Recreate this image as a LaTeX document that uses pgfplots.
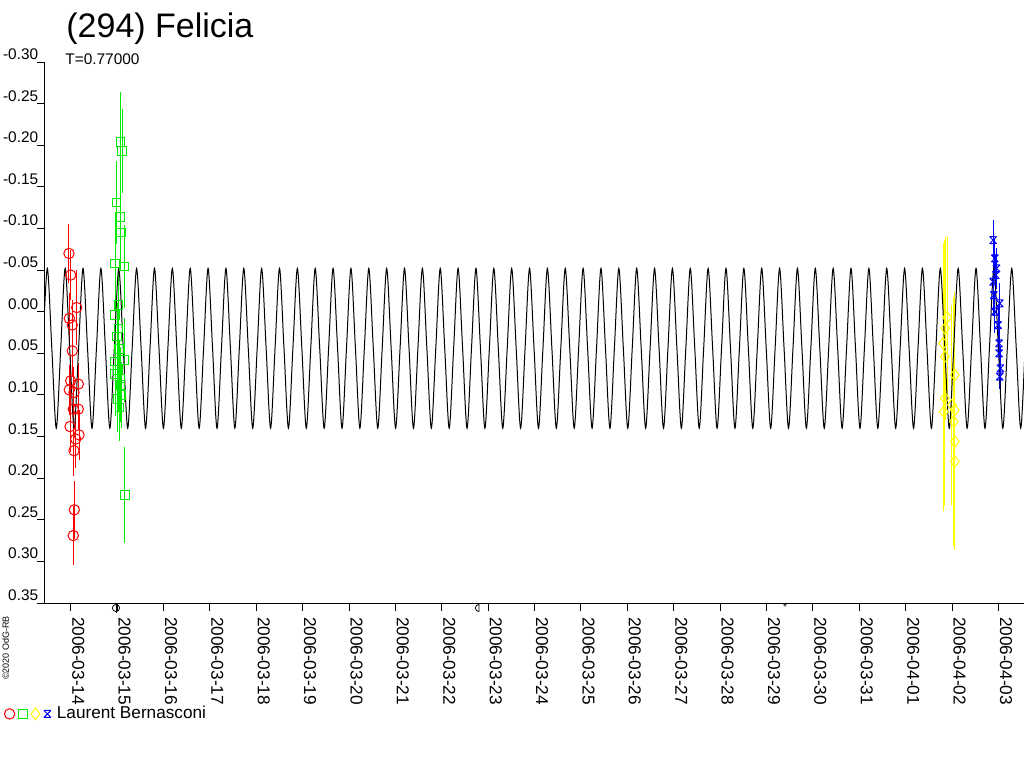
\documentclass[border=0pt]{standalone}
\usepackage{fontspec}
\setmainfont{Liberation Sans}
\usepackage{pgfplots}
\usepackage{pgfplotstable}
\pgfplotsset{compat=1.18}
\usetikzlibrary{plotmarks}
\definecolor{cred}{RGB}{255,0,0}
\definecolor{cgreen}{RGB}{0,235,0}
\definecolor{cyellow}{RGB}{255,255,0}
\definecolor{cblue}{RGB}{0,0,255}
\newcommand\tk{\fontsize{7.7}{9}\selectfont}
\newcommand\tx{\fontsize{8.6}{10}\selectfont}
\pgfdeclareplotmark{hx}{%
  \pgfpathmoveto{\pgfqpoint{-\pgfplotmarksize}{\pgfplotmarksize}}%
  \pgfpathlineto{\pgfqpoint{\pgfplotmarksize}{-\pgfplotmarksize}}%
  \pgfpathmoveto{\pgfqpoint{-\pgfplotmarksize}{-\pgfplotmarksize}}%
  \pgfpathlineto{\pgfqpoint{\pgfplotmarksize}{\pgfplotmarksize}}%
  \pgfpathmoveto{\pgfqpoint{-\pgfplotmarksize}{\pgfplotmarksize}}%
  \pgfpathlineto{\pgfqpoint{\pgfplotmarksize}{\pgfplotmarksize}}%
  \pgfpathmoveto{\pgfqpoint{-\pgfplotmarksize}{-\pgfplotmarksize}}%
  \pgfpathlineto{\pgfqpoint{\pgfplotmarksize}{-\pgfplotmarksize}}%
  \pgfusepathqstroke}

\pgfplotstableread{
t v e
-0.037 -0.070 0.035
0.000 -0.044 0.030
0.129 -0.005 0.045
-0.030 0.008 0.030
0.034 0.016 0.030
0.034 0.047 0.030
0.000 0.083 0.030
0.164 0.087 0.025
-0.030 0.094 0.030
0.071 0.097 0.030
0.056 0.117 0.030
0.164 0.117 0.025
-0.015 0.138 0.030
0.179 0.148 0.030
0.108 0.153 0.035
0.071 0.167 0.030
0.078 0.238 0.035
0.056 0.269 0.035
}\redtab

\pgfplotstableread{
t v e
1.078 -0.204 0.060
1.106 -0.193 0.050
0.991 -0.131 0.050
1.063 -0.114 0.045
1.084 -0.095 0.045
0.955 -0.058 0.060
1.149 -0.054 0.050
1.026 -0.008 0.045
0.955 0.004 0.045
1.030 0.020 0.045
1.000 0.030 0.040
1.040 0.045 0.045
1.155 0.058 0.050
0.955 0.060 0.045
1.020 0.070 0.050
0.955 0.075 0.050
1.060 0.080 0.045
1.078 0.088 0.045
1.099 0.100 0.040
1.010 0.105 0.040
1.050 0.115 0.040
1.170 0.220 0.058
}\greentab

\pgfplotstableread{
t v e
18.892 0.007 0.098
18.850 0.020 0.110
18.806 0.038 0.120
18.843 0.054 0.140
19.058 0.076 0.100
18.843 0.104 0.130
18.995 0.112 0.120
18.821 0.120 0.120
19.058 0.118 0.120
19.037 0.132 0.150
19.058 0.156 0.130
19.058 0.180 0.100
}\yellowtab

\pgfplotstableread{
t v e
19.884 -0.086 0.024
19.920 -0.064 0.025
19.957 -0.052 0.025
19.942 -0.044 0.025
19.884 -0.036 0.025
19.899 -0.020 0.025
20.028 -0.010 0.025
19.920 0.000 0.025
19.991 0.016 0.025
20.013 0.038 0.025
20.013 0.050 0.025
20.043 0.068 0.027
20.028 0.078 0.015
}\bluetab

\begin{document}
\begin{tikzpicture}
\path[use as bounding box] (0pt,0pt) rectangle (512pt,384pt);
\begin{axis}[
  at={(22.5pt,82.5pt)}, anchor=south west,
  scale only axis, width=489.5pt, height=270.5pt,
  xmin=-0.554, xmax=20.55, ymin=-0.30, ymax=0.35, y dir=reverse,
  axis lines*=left, axis line style={-, black, line width=0.5pt},
  tick align=outside, major tick length=4.2pt,
  tick style={black, line width=0.5pt},
  minor tick num=0,
  xtick={0,1,...,20},
  xticklabels={2006-03-14,2006-03-15,2006-03-16,2006-03-17,2006-03-18,2006-03-19,2006-03-20,2006-03-21,2006-03-22,2006-03-23,2006-03-24,2006-03-25,2006-03-26,2006-03-27,2006-03-28,2006-03-29,2006-03-30,2006-03-31,2006-04-01,2006-04-02,2006-04-03},
  ytick={-0.3,-0.25,-0.2,-0.15,-0.1,-0.05,0,0.05,0.1,0.15,0.2,0.25,0.3,0.35},
  yticklabels={-0.30,-0.25,-0.20,-0.15,-0.10,-0.05,0.00,0.05,0.10,0.15,0.20,0.25,0.30,0.35},
  yticklabel style={anchor=south east, inner xsep=0pt, inner ysep=1pt, xshift=1pt, font=\tk},
  xticklabel style={rotate=-90, anchor=south west, inner xsep=2.6pt, inner ysep=0.5pt, font=\tx},
  legend columns=-1,
  legend image code/.code={\draw[#1] plot coordinates {(0pt,0pt)};},
  legend style={draw=none, fill=none, at={(-0.0419,-0.205)}, anchor=west,
    inner sep=0pt, column sep=0.4pt, nodes={inner sep=0.6pt, font=\tx}},
]
\addplot[only marks, mark=o, cred, mark size=2.6pt, mark options={line width=0.5pt},
  error bars/.cd, y dir=both, y explicit, error mark=none,
  error bar style={cred, line width=0.5pt}]
  table[x=t, y=v, y error=e] {\redtab};
\addlegendentry{}
\addplot[only marks, mark=square, cgreen, mark size=2.1pt, mark options={line width=0.5pt},
  error bars/.cd, y dir=both, y explicit, error mark=none,
  error bar style={cgreen, line width=0.5pt}]
  table[x=t, y=v, y error=e] {\greentab};
\addlegendentry{}
\addplot[only marks, mark=diamond, cyellow, mark size=2.9pt, mark options={line width=0.5pt},
  error bars/.cd, y dir=both, y explicit, error mark=none,
  error bar style={cyellow, line width=0.5pt}]
  table[x=t, y=v, y error=e] {\yellowtab};
\addlegendentry{}
\addplot[only marks, mark=hx, cblue, mark size=1.75pt, mark options={line width=0.5pt},
  error bars/.cd, y dir=both, y explicit, error mark=none,
  error bar style={cblue, line width=0.5pt}]
  table[x=t, y=v, y error=e] {\bluetab};
\addlegendentry{\hspace{2pt}Laurent Bernasconi}
\addplot[black, line width=0.5pt, smooth, forget plot] coordinates {
(-0.600,0.044)(-0.504,-0.052)(-0.407,0.044)(-0.311,0.14)
(-0.215,0.044)(-0.119,-0.052)(-0.022,0.044)(0.074,0.14)
(0.170,0.044)(0.266,-0.052)(0.363,0.044)(0.459,0.14)
(0.555,0.044)(0.651,-0.052)(0.748,0.044)(0.844,0.14)
(0.940,0.044)(1.036,-0.052)(1.133,0.044)(1.229,0.14)
(1.325,0.044)(1.421,-0.052)(1.518,0.044)(1.614,0.14)
(1.710,0.044)(1.806,-0.052)(1.903,0.044)(1.999,0.14)
(2.095,0.044)(2.191,-0.052)(2.288,0.044)(2.384,0.14)
(2.480,0.044)(2.576,-0.052)(2.673,0.044)(2.769,0.14)
(2.865,0.044)(2.961,-0.052)(3.058,0.044)(3.154,0.14)
(3.250,0.044)(3.346,-0.052)(3.443,0.044)(3.539,0.14)
(3.635,0.044)(3.731,-0.052)(3.828,0.044)(3.924,0.14)
(4.020,0.044)(4.116,-0.052)(4.213,0.044)(4.309,0.14)
(4.405,0.044)(4.501,-0.052)(4.598,0.044)(4.694,0.14)
(4.790,0.044)(4.886,-0.052)(4.983,0.044)(5.079,0.14)
(5.175,0.044)(5.271,-0.052)(5.368,0.044)(5.464,0.14)
(5.560,0.044)(5.656,-0.052)(5.753,0.044)(5.849,0.14)
(5.945,0.044)(6.041,-0.052)(6.138,0.044)(6.234,0.14)
(6.330,0.044)(6.426,-0.052)(6.523,0.044)(6.619,0.14)
(6.715,0.044)(6.811,-0.052)(6.908,0.044)(7.004,0.14)
(7.100,0.044)(7.196,-0.052)(7.293,0.044)(7.389,0.14)
(7.485,0.044)(7.581,-0.052)(7.678,0.044)(7.774,0.14)
(7.870,0.044)(7.966,-0.052)(8.063,0.044)(8.159,0.14)
(8.255,0.044)(8.351,-0.052)(8.448,0.044)(8.544,0.14)
(8.640,0.044)(8.736,-0.052)(8.833,0.044)(8.929,0.14)
(9.025,0.044)(9.121,-0.052)(9.218,0.044)(9.314,0.14)
(9.410,0.044)(9.506,-0.052)(9.603,0.044)(9.699,0.14)
(9.795,0.044)(9.891,-0.052)(9.988,0.044)(10.084,0.14)
(10.180,0.044)(10.276,-0.052)(10.373,0.044)(10.469,0.14)
(10.565,0.044)(10.661,-0.052)(10.758,0.044)(10.854,0.14)
(10.950,0.044)(11.046,-0.052)(11.143,0.044)(11.239,0.14)
(11.335,0.044)(11.431,-0.052)(11.528,0.044)(11.624,0.14)
(11.720,0.044)(11.816,-0.052)(11.913,0.044)(12.009,0.14)
(12.105,0.044)(12.201,-0.052)(12.298,0.044)(12.394,0.14)
(12.490,0.044)(12.586,-0.052)(12.683,0.044)(12.779,0.14)
(12.875,0.044)(12.971,-0.052)(13.068,0.044)(13.164,0.14)
(13.260,0.044)(13.356,-0.052)(13.453,0.044)(13.549,0.14)
(13.645,0.044)(13.741,-0.052)(13.838,0.044)(13.934,0.14)
(14.030,0.044)(14.126,-0.052)(14.223,0.044)(14.319,0.14)
(14.415,0.044)(14.511,-0.052)(14.608,0.044)(14.704,0.14)
(14.800,0.044)(14.896,-0.052)(14.993,0.044)(15.089,0.14)
(15.185,0.044)(15.281,-0.052)(15.378,0.044)(15.474,0.14)
(15.570,0.044)(15.666,-0.052)(15.763,0.044)(15.859,0.14)
(15.955,0.044)(16.051,-0.052)(16.148,0.044)(16.244,0.14)
(16.340,0.044)(16.436,-0.052)(16.533,0.044)(16.629,0.14)
(16.725,0.044)(16.821,-0.052)(16.918,0.044)(17.014,0.14)
(17.110,0.044)(17.206,-0.052)(17.303,0.044)(17.399,0.14)
(17.495,0.044)(17.591,-0.052)(17.688,0.044)(17.784,0.14)
(17.880,0.044)(17.976,-0.052)(18.073,0.044)(18.169,0.14)
(18.265,0.044)(18.361,-0.052)(18.458,0.044)(18.554,0.14)
(18.650,0.044)(18.746,-0.052)(18.843,0.044)(18.939,0.14)
(19.035,0.044)(19.131,-0.052)(19.228,0.044)(19.324,0.14)
(19.420,0.044)(19.516,-0.052)(19.613,0.044)(19.709,0.14)
(19.805,0.044)(19.901,-0.052)(19.998,0.044)(20.094,0.14)
(20.190,0.044)(20.286,-0.052)(20.383,0.044)(20.479,0.14)
(20.575,0.044)(20.671,-0.052)(20.768,0.044)(20.864,0.14)
};
\end{axis}
\node[anchor=base west, inner sep=0pt, font=\fontsize{17}{20}\selectfont] at (33pt,365pt) {(294) Felicia};
\node[anchor=base west, inner sep=0pt, font=\tk] at (32.5pt,352pt) {T=0.77000};
\node[rotate=90, inner sep=0pt, font=\fontsize{4.5}{5}\selectfont] at (2.8pt,60pt) {\textcopyright2020 OdG-RB};
% moon phase symbols
\draw[line width=0.4pt] (58pt,80pt) circle (1.8pt);
\draw[line width=0.4pt] (58pt,82.6pt) -- (58pt,77.4pt);
\draw[line width=0.4pt] (239.5pt,81.8pt) arc (90:270:1.8pt) -- cycle;
\node[inner sep=0pt, font=\fontsize{5}{6}\selectfont] at (392.5pt,80.5pt) {*};
\end{tikzpicture}
\end{document}
